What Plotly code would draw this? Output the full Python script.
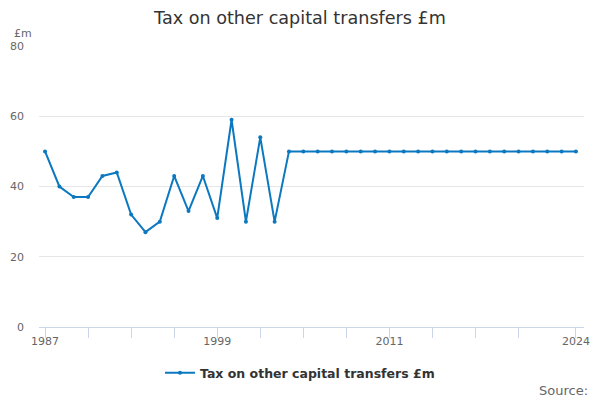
import plotly.graph_objects as go

# %% Data
years = list(range(1987, 2025))
values = [
    50, 40, 37, 37, 43, 44, 32, 27, 30, 43, 33, 43, 31, 59, 30, 54, 30, 50,
    50, 50, 50, 50, 50, 50, 50, 50, 50, 50, 50, 50, 50, 50, 50, 50, 50, 50, 50, 50,
]
tick_years = [1987, 1990, 1993, 1996, 1999, 2002, 2005, 2008, 2011, 2014, 2017, 2020, 2024]
tick_labels = ["1987", "", "", "", "1999", "", "", "", "2011", "", "", "", "2024"]
series_name = "Tax on other capital transfers £m"

# %% Plot
fig = go.Figure()
fig.add_trace(
    go.Scatter(
        x=years,
        y=values,
        mode="lines+markers",
        name=series_name,
        line=dict(color="#0b78c0", width=2),
        marker=dict(size=4, color="#0b78c0"),
    )
)

fig.update_layout(
    width=600,
    height=400,
    paper_bgcolor="white",
    plot_bgcolor="white",
    font=dict(family="DejaVu Sans", color="#666666"),
    title=dict(
        text="Tax on other capital transfers £m",
        x=0.5,
        xanchor="center",
        y=0.955,
        yanchor="middle",
        font=dict(size=17.6, color="#333333"),
    ),
    margin=dict(l=39, r=16, t=46, b=73),
    showlegend=True,
    legend=dict(
        orientation="h",
        xref="container",
        yref="container",
        x=0.5,
        xanchor="center",
        y=0.067,
        yanchor="middle",
        itemwidth=30,
        font=dict(size=12.5, color="#333333", weight="bold"),
    ),
)

fig.update_xaxes(
    range=[1986.58, 2024.56],
    tickmode="array",
    tickvals=tick_years,
    ticktext=tick_labels,
    ticks="outside",
    ticklen=10,
    tickcolor="#ccd6eb",
    showline=True,
    linecolor="#ccd6eb",
    showgrid=False,
    zeroline=False,
    automargin=False,
    ticklabelstandoff=-6,
    tickfont=dict(size=11, color="#666666"),
)
fig.update_yaxes(
    range=[0, 80],
    tickvals=[0, 20, 40, 60, 80],
    showgrid=True,
    gridcolor="#e6e6e6",
    zeroline=False,
    showline=False,
    ticks="",
    ticklabelstandoff=14,
    automargin=False,
    tickfont=dict(size=11, color="#666666"),
)

fig.add_annotation(
    text="£m", xref="paper", yref="paper", x=-0.0495, y=1.046,
    xanchor="left", yanchor="middle", showarrow=False,
    font=dict(size=11, color="#666666"),
)
fig.add_annotation(
    text="Source:", xref="paper", yref="paper", x=1.011, y=-0.226,
    xanchor="right", yanchor="middle", showarrow=False,
    font=dict(size=13, color="#666666"),
)

# page has a default body margin that shifts the figure; remove it
fig.write_html(
    "out.html",
    config={"displayModeBar": False},
    post_script="document.body.style.margin='0';",
)
